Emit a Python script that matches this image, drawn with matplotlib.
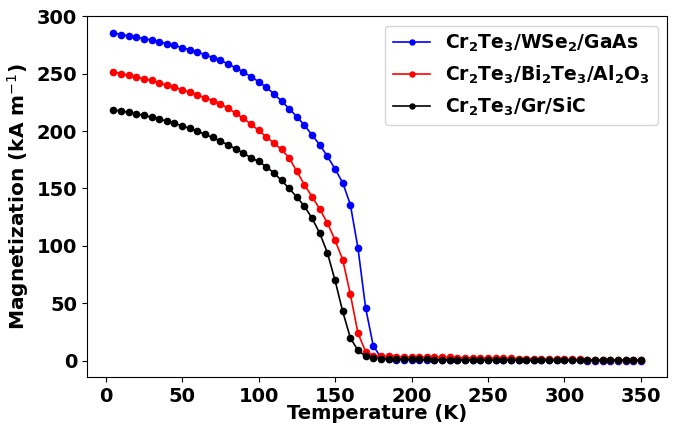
import matplotlib
matplotlib.use("Agg")
import matplotlib.pyplot as plt

temperature = list(range(5, 355, 5))

m_wse2 = [285.5, 284, 282.8, 281.6, 280.4, 279.2, 277.8, 276, 274.5, 272.6,
          270.8, 268.8, 266.5, 264, 261.5, 258.5, 255, 251.3, 247.3, 243,
          238, 232.5, 226, 219.5, 212.5, 205, 196.5, 188, 178, 167,
          155, 136, 98, 46, 13, 3, 1.2, 1.0, 0.9, 0.8,
          0.8, 0.7, 0.7, 0.6, 0.6, 0.6, 0.5, 0.5, 0.5, 0.5,
          0.4, 0.4, 0.4, 0.4, 0.4, 0.3, 0.3, 0.3, 0.3, 0.3,
          0.3, 0.3, 0.2, 0.2, 0.2, 0.2, 0.2, 0.2, 0.2, 0.2]

m_bi2te3 = [251.5, 250, 248.5, 247, 245.5, 244, 242, 240, 238, 236,
            234, 231.5, 229, 226.5, 223.5, 220, 215.5, 211, 206, 200.5,
            195, 189.5, 184, 176.5, 165, 153, 143, 132, 120, 105,
            88, 58, 24, 8, 4.5, 4.0, 3.8, 3.6, 3.5, 3.4,
            3.3, 3.2, 3.1, 3.0, 2.9, 2.8, 2.7, 2.6, 2.5, 2.4,
            2.3, 2.2, 2.1, 2.0, 1.9, 1.8, 1.7, 1.6, 1.5, 1.4,
            1.3, 1.2, 1.1, 1.0, 1.0, 0.9, 0.9, 0.8, 0.8, 0.8]

m_gr = [218.5, 217.4, 216.2, 215, 213.6, 212.1, 210.4, 208.7, 206.6, 204.6,
        202.3, 199.9, 197, 194.4, 191.2, 188, 184.5, 180.8, 176.7, 173.5,
        169, 163.5, 157, 150, 142.5, 134.5, 124, 111, 94, 70,
        43, 20, 9, 4, 2.5, 2.0, 1.8, 1.6, 1.5, 1.4,
        1.3, 1.2, 1.1, 1.0, 1.0, 0.9, 0.9, 0.8, 0.8, 0.7,
        0.7, 0.7, 0.6, 0.6, 0.6, 0.5, 0.5, 0.5, 0.5, 0.4,
        0.4, 0.4, 0.4, 0.4, 0.3, 0.3, 0.3, 0.3, 0.3, 0.3]

labels = [r"Cr$_\mathbf{2}$Te$_\mathbf{3}$/WSe$_\mathbf{2}$/GaAs",
          r"Cr$_\mathbf{2}$Te$_\mathbf{3}$/Bi$_\mathbf{2}$Te$_\mathbf{3}$/Al$_\mathbf{2}$O$_\mathbf{3}$",
          r"Cr$_\mathbf{2}$Te$_\mathbf{3}$/Gr/SiC"]
colors = ["blue", "red", "black"]

fig = plt.figure(figsize=(6.74, 4.25), dpi=100)
ax = fig.add_axes([0.129, 0.113, 0.861, 0.849])

for series, lab, col in zip([m_wse2, m_bi2te3, m_gr], labels, colors):
    ax.plot(temperature, series, "-o", color=col, markersize=4.5, linewidth=1.2, label=lab)

ax.set_xlabel("Temperature (K)", fontsize=14, fontweight="bold", labelpad=-1)
ax.set_ylabel(r"Magnetization (kA m$^{-1}$)", fontsize=14.5, fontweight="bold", labelpad=4)
ax.set_xticks([0, 50, 100, 150, 200, 250, 300, 350])
ax.set_yticks([0, 50, 100, 150, 200, 250, 300])
for t in ax.get_xticklabels() + ax.get_yticklabels():
    t.set_fontsize(14)
    t.set_fontweight("bold")

leg = ax.legend(loc="upper right", prop={"weight": "bold", "size": 13.5},
                markerscale=0.8)

fig.savefig("out.png", dpi=100)
